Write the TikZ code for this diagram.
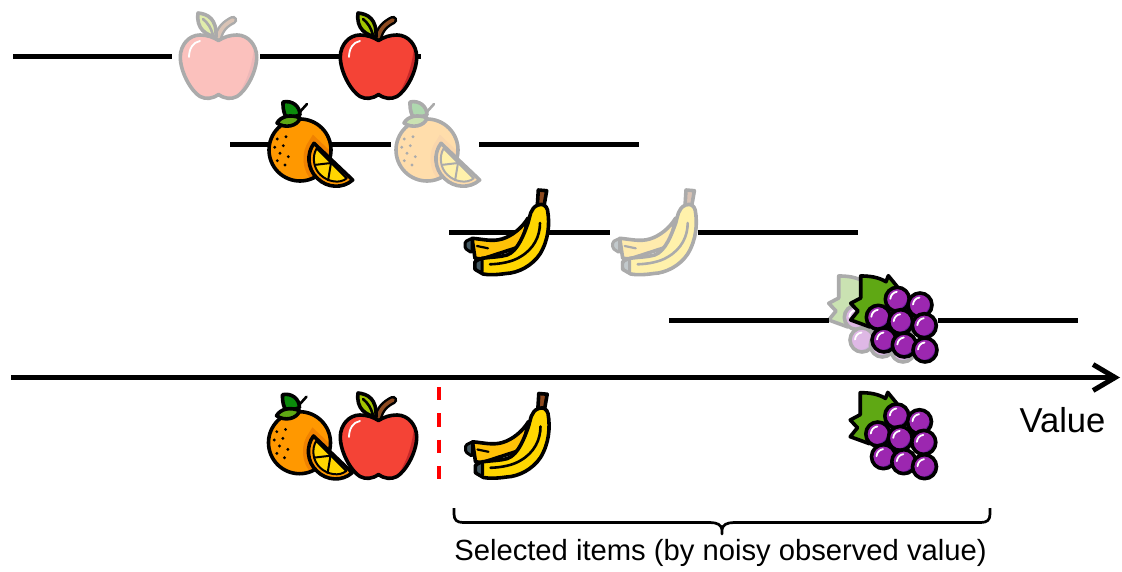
\documentclass[tikz,border=0pt]{standalone}
\usepackage{fontspec}
\setmainfont{Liberation Sans}
\usetikzlibrary{arrows.meta}
\definecolor{appleR}{HTML}{F44336}
\definecolor{appleD}{HTML}{C62828}
\definecolor{leafA}{HTML}{A2C400}
\definecolor{leafB}{HTML}{5FA814}
\definecolor{leafC}{HTML}{0B8A0B}
\definecolor{stemB}{HTML}{8D4A1F}
\definecolor{orangeA}{HTML}{FF9800}
\definecolor{orangeD}{HTML}{F08200}
\definecolor{bananaA}{HTML}{FFD600}
\definecolor{bananaB}{HTML}{FFC107}
\definecolor{capG}{HTML}{455A64}
\definecolor{grapeA}{HTML}{9C27B0}
\definecolor{grapeD}{HTML}{6A1B9A}
\newcommand\onegrape[2]{%
  \fill[grapeA] (#1,#2) circle (12);
  \begin{scope}
    \clip (#1,#2) circle (12);
    \fill[grapeD,even odd rule] (#1,#2) circle (12) (#1-2,#2-2) circle (12);
  \end{scope}
  \draw[fruitline] (#1,#2) circle (12);
  \draw[white,line width=1.8pt,line cap=round] (#1-7,#2-0.5) .. controls (#1-6.5,#2-4.5) and (#1-4,#2-7) .. (#1-0.5,#2-7.5);
}
\tikzset{
  x=1pt,y=-1pt,
  fruitline/.style={black,line width=3.6pt,line join=round,line cap=round},
  rule/.style={black,line width=5pt},
  fadeit/.style={transparency group,opacity=.33},
  apple/.pic={
    \draw[fruitline,line width=8.5pt] (0,-19) .. controls (2,-28) and (7,-33) .. (15,-37);
    \draw[stemB,line width=3.6pt,line cap=round] (0,-19) .. controls (2,-28) and (7,-33) .. (15,-37);
    \draw[fruitline,fill=leafA] (-20,-44) .. controls (-10,-43) and (-1,-38) .. (-2,-20) .. controls (-12,-22) and (-22,-28) .. cycle;
    \draw[black,line width=2.6pt,line cap=round] (-15,-38) .. controls (-10,-34) and (-7,-29) .. (-5,-22);
    \def\applepath{(0.5,-16.5) .. controls (6,-20) and (12,-22) .. (19,-22) .. controls (30,-22) and (38.7,-12) .. (38.7,0) .. controls (38.7,15) and (28,34) .. (19,39.5) .. controls (13,42.5) and (7,42) .. (0.5,37.5) .. controls (-6,42) and (-12,42.5) .. (-18,39.5) .. controls (-27,34) and (-37.7,15) .. (-37.7,0) .. controls (-37.7,-12) and (-29,-22) .. (-18,-22) .. controls (-11,-22) and (-5,-20) .. cycle}
    \fill[appleR] \applepath;
    \begin{scope}
      \clip \applepath;
      \fill[appleD] (38,-22) .. controls (35,-5) and (35,20) .. (14,46) -- (45,46) -- (45,-22) -- cycle;
    \end{scope}
    \draw[fruitline] \applepath;
    \draw[white,line width=1.8pt,line cap=round] (-29,0) .. controls (-29,-8) and (-25,-15) .. (-18,-16);
  },
  orange/.pic={
    \draw[black,line width=2.6pt,line cap=round] (-2,-36) -- (7,-46);
    \draw[fruitline,fill=leafC] (-17,-48) .. controls (-8,-50) and (0,-44) .. (0,-35) .. controls (-5,-33) and (-14,-32) .. (-15,-35) .. controls (-17,-40) and (-17,-44) .. cycle;
    \fill[orangeA] (0,0) circle (31);
    \begin{scope}
      \clip (0,0) circle (31);
      \draw[orangeD,line width=11pt] (14,-6.7) -- (52.7,30) .. controls (42.6,39) and (27,38) .. (17.5,28.5) .. controls (7,19) and (6.5,3) .. cycle;
    \end{scope}
    \draw[fruitline] (0,0) circle (31);
    \draw[fruitline,fill=leafB] (-23,-27) .. controls (-19,-34) and (-9,-36) .. (0,-32) .. controls (-2,-24) and (-15,-21) .. cycle;
    \fill[black] (-14,-13.3) circle (1.6) (-22.7,-11) circle (1.6) (-25.3,-2.7) circle (1.6) (-16.7,-4.3) circle (1.6) (-20,3.3) circle (1.6) (-11.7,6.7) circle (1.6) (-22.7,10.7) circle (1.6) (-15,15) circle (1.6);
    \draw[fruitline,fill=orangeA] (14,-6.7) -- (52.7,30) .. controls (42.6,39) and (27,38) .. (17.5,28.5) .. controls (7,19) and (6.5,3) .. cycle;
    \draw[black,line width=2pt,line join=round,fill=bananaA] (16.7,-1.7) -- (46.7,28.3) .. controls (40,34) and (28,32) .. (20.6,25) .. controls (13,18) and (12,6) .. cycle;
    \draw[black,line width=2pt] (31,13) -- (14,15) (31,13) -- (28,31);
  },
  banana/.pic={
    \draw[fruitline,fill=stemB] (28.3,-42) -- (36.7,-41.3) -- (34,-26) -- (27.3,-26) -- cycle;
    \draw[fruitline,fill=bananaB] (-38,6.3) .. controls (-28,7) and (-18,10) .. (-8,7) .. controls (2,4) and (12,-4) .. (18,-14) -- (12,14) -- (-28,27) -- (-35,26.3) -- cycle;
    \draw[fruitline,fill=capG,line width=3pt,rounded corners=1.5pt] (-38,6.3) -- (-45,9.7) -- (-45,16.3) -- (-38,21) -- cycle;
    \draw[black,line width=2.2pt,line cap=round] (-33,14) -- (-22,16.3);
    \draw[fruitline,fill=bananaA] (28,-27) .. controls (33,-29) and (36.5,-26) .. (37.5,-22) .. controls (40,-8) and (38.5,8) .. (30,22) .. controls (22,34) and (8,41) .. (-4,41.5) .. controls (-14,43) and (-22,43) .. (-27,42) -- (-35,37.3) -- (-35,29.7) -- (-28,26.3) .. controls (-18,25) and (-10,25) .. (-3,23) .. controls (8,19) and (14,2) .. (18,-9) .. controls (20,-15) and (20,-24) .. cycle;
    \draw[fruitline,fill=capG,line width=3pt,rounded corners=1.5pt] (-28,26.3) -- (-35,29.7) -- (-35,37.3) -- (-28,41) -- cycle;
    \draw[black,line width=2.6pt,line cap=round] (30,-9) .. controls (30,4) and (24,17) .. (10,25) .. controls (2,30) and (-10,32) .. (-20,32.3);
  },
  grapes/.pic={
    \draw[fruitline,fill=leafB] (-29.3,-44) .. controls (-20,-44) and (-12,-43) .. (-4,-38.3) -- (-1.7,-44.3) -- (7.3,-33.3) -- (-3,-13) -- (-20,7) -- (-39.3,0) -- (-32,-9) -- (-39.3,-16.7) -- (-29.3,-22) -- cycle;
    \onegrape{7.3}{-20.7}
    \onegrape{30}{-15}
    \onegrape{-11.7}{-2.7}
    \onegrape{10.7}{1.7}
    \onegrape{34.3}{5.7}
    \onegrape{-6}{20}
    \onegrape{14.3}{25}
    \onegrape{35}{30}
  },
}
\begin{document}
\begin{tikzpicture}
\useasboundingbox (0,0) rectangle (1122,572);
\coordinate (a1) at (13,57); \coordinate (a2) at (172,57);
\coordinate (a3) at (260,57); \coordinate (a4) at (420.5,57);
\coordinate (b1) at (230,145); \coordinate (b2) at (391,145);
\coordinate (b3) at (479,145); \coordinate (b4) at (639,145);
\coordinate (c1) at (449,232.5); \coordinate (c2) at (610,232.5);
\coordinate (c3) at (698,232.5); \coordinate (c4) at (858,232.5);
\coordinate (d1) at (669,320); \coordinate (d2) at (829,320);
\coordinate (d3) at (938,320); \coordinate (d4) at (1078,320);
\draw[rule] (a1) -- (a2) (a3) -- (a4);
\draw[rule] (b1) -- (b2) (b3) -- (b4);
\draw[rule] (c1) -- (c2) (c3) -- (c4);
\draw[rule] (d1) -- (d2) (d3) -- (d4);
\begin{scope}[fadeit] \pic at (218,57) {apple}; \end{scope}
\pic at (378,57) {apple};
\pic at (300,150) {orange};
\begin{scope}[fadeit] \pic at (427,150) {orange}; \end{scope}
\pic at (510,232) {banana};
\begin{scope}[fadeit] \pic at (657.7,232) {banana}; \end{scope}
\begin{scope}[fadeit] \pic at (868,320) {grapes}; \end{scope}
\pic at (890,320) {grapes};
\coordinate (ax1) at (11,377.5); \coordinate (ax2) at (1120,377.5);
\draw[rule,-{Straight Barb[length=22pt,width=26pt,line width=5pt]}] (ax1) -- (ax2);
\node[font=\fontsize{34.6}{36}\selectfont,inner sep=0pt] (val) at (1062.5,420.5) {Value};
\pic at (299.5,442.7) {orange};
\pic at (378,437) {apple};
\pic at (510.5,435.5) {banana};
\pic at (889.5,436.7) {grapes};
\coordinate (t1) at (439,387); \coordinate (t2) at (439,480);
\draw[red,line width=4pt,dash pattern=on 13.3pt off 13pt] (t1) -- (t2);
\coordinate (bl) at (454,508); \coordinate (br) at (990,508); \coordinate (bm) at (722,534);
\draw[black,line width=2.7pt,line join=round] (bl) -- (454,514) .. controls (454,520) and (457,522.5) .. (463,522.5) -- (710,522.5) .. controls (717,522.5) and (722,525) .. (722,530) -- (bm) -- (722,530) .. controls (722,525) and (727,522.5) .. (734,522.5) -- (981,522.5) .. controls (987,522.5) and (990,520) .. (990,514) -- (br);
\node[font=\fontsize{29.2}{32}\selectfont,inner sep=0pt] (sel) at (720.5,553) {Selected items (by noisy observed value)};
\end{tikzpicture}
\end{document}
